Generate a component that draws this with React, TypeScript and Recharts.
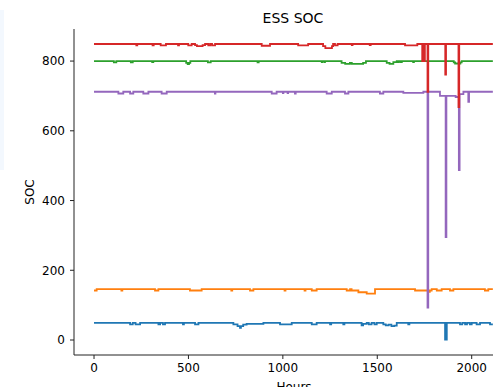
import React from "react";
import { LineChart, Line, XAxis, YAxis } from "recharts";

// [hour, SOC] breakpoints (values hold until the next breakpoint)
const blueSeries: [number, number][] = [
  [0, 49], [191, 45], [205, 49], [220, 45], [244, 49], [341, 45], [350, 49], [365, 45], [376, 49],
  [471, 45], [476, 49], [535, 45], [553, 49], [738, 45], [760, 40], [773, 35], [778, 40], [790, 44],
  [808, 46], [897, 49], [985, 45], [1047, 49], [1153, 45], [1179, 49], [1250, 45], [1256, 49],
  [1320, 45], [1326, 49], [1417, 42], [1425, 46], [1444, 49], [1455, 45], [1470, 49], [1485, 45],
  [1497, 49], [1532, 45], [1545, 42], [1560, 44], [1575, 40], [1590, 41], [1603, 49], [1664, 45],
  [1670, 49], [1859, 1], [1868, 49], [1938, 45], [1950, 49], [1965, 45], [1975, 49], [1990, 45],
  [2000, 49], [2026, 45], [2044, 49], [2097, 45], [2112, 45],
];

const orangeSeries: [number, number][] = [
  [0, 142], [14, 146], [145, 142], [150, 146], [323, 142], [341, 146], [508, 142], [570, 146],
  [727, 142], [732, 146], [826, 142], [844, 146], [1009, 142], [1014, 146], [1115, 142], [1120, 146],
  [1153, 142], [1179, 146], [1338, 142], [1356, 146], [1364, 142], [1400, 137], [1444, 133],
  [1488, 146], [1700, 142], [1768, 138], [1778, 142], [1788, 146], [1815, 142], [1841, 146],
  [1885, 142], [1903, 146], [2070, 142], [2088, 146], [2112, 146],
];

const greenSeries: [number, number][] = [
  [0, 800], [105, 796], [118, 800], [195, 796], [205, 800], [308, 797], [314, 800], [488, 795],
  [496, 791], [503, 795], [510, 800], [603, 796], [618, 800], [866, 796], [872, 800], [1206, 797],
  [1209, 800], [1220, 797], [1223, 800], [1311, 795], [1330, 792], [1355, 795], [1365, 792],
  [1425, 795], [1440, 800], [1550, 795], [1565, 792], [1585, 797], [1603, 800], [1610, 797],
  [1615, 800], [1625, 797], [1630, 800], [1690, 797], [1694, 800], [1905, 796], [1912, 793],
  [1940, 796], [1947, 800], [2112, 800],
];

const purpleSeries: [number, number][] = [
  [0, 712], [129, 707], [155, 712], [191, 707], [208, 712], [261, 707], [288, 712], [358, 707],
  [385, 712], [640, 707], [643, 712], [941, 707], [967, 712], [1000, 708], [1003, 712], [1025, 708],
  [1028, 712], [1064, 707], [1068, 712], [1232, 707], [1259, 712], [1329, 707], [1347, 712],
  [1514, 707], [1532, 712], [1638, 709], [1744, 712], [1766, 93], [1770, 712], [1832, 700],
  [1862, 295], [1866, 700], [1915, 697], [1932, 487], [1936, 705], [1956, 712], [1982, 683],
  [1986, 712], [2112, 712],
];

const redSeries: [number, number][] = [
  [0, 849], [224, 845], [229, 849], [310, 845], [316, 849], [353, 845], [381, 849], [445, 845],
  [450, 849], [499, 845], [517, 849], [535, 846], [545, 843], [575, 846], [588, 849], [605, 845],
  [615, 849], [625, 845], [641, 849], [888, 844], [932, 849], [1081, 845], [1134, 849], [1213, 843],
  [1225, 837], [1260, 843], [1266, 849], [1276, 845], [1290, 849], [1365, 846], [1369, 849],
  [1460, 846], [1465, 849], [1647, 845], [1712, 849], [1738, 800], [1742, 849], [1748, 800],
  [1752, 849], [1766, 712], [1770, 849], [1860, 761], [1864, 849], [1930, 668], [1934, 849],
  [2112, 849],
];

const xTicks = [0, 500, 1000, 1500, 2000];
const yTicks = [0, 200, 400, 600, 800];

const FONT = "DejaVu Sans";
const toRows = (pts: [number, number][]) => pts.map(([h, v]) => ({ h, v }));

const series = [
  { name: "ESS1", pts: blueSeries, color: "#1f77b4" },
  { name: "ESS2", pts: orangeSeries, color: "#ff7f0e" },
  { name: "ESS3", pts: greenSeries, color: "#2ca02c" },
  { name: "ESS5", pts: purpleSeries, color: "#9467bd" },
  { name: "ESS4", pts: redSeries, color: "#d62728" },
];

export default function App() {
  const tickStyle = { fontSize: 12, fill: "#000", fontFamily: FONT };
  return (
    <div
      style={{
        position: "absolute",
        left: 0,
        top: 0,
        width: 493,
        height: 387,
        overflow: "hidden",
        background: "#fff",
      }}
    >
      <div style={{ position: "absolute", left: 0, top: 10, width: 4, height: 160, background: "#f3f8fe" }} />
      <LineChart width={530} height={387} margin={{ top: 29, right: 16, bottom: 0, left: 0 }}>
        <XAxis
          xAxisId="main"
          dataKey="h"
          type="number"
          domain={[-106, 2224]}
          ticks={xTicks}
          allowDataOverflow
          height={32}
          tickSize={4}
          tickMargin={4}
          tick={tickStyle}
          axisLine={{ stroke: "#222", strokeWidth: 1 }}
          tickLine={{ stroke: "#222", strokeWidth: 1 }}
        />
        <XAxis
          xAxisId="top"
          orientation="top"
          dataKey="h"
          type="number"
          domain={[-106, 2224]}
          allowDataOverflow
          height={0}
          tick={false}
          tickLine={false}
          axisLine={{ stroke: "#222", strokeWidth: 1 }}
        />
        <YAxis
          type="number"
          domain={[-43, 892]}
          ticks={yTicks}
          allowDataOverflow
          width={74}
          tickSize={4}
          tickMargin={5}
          tick={tickStyle}
          axisLine={{ stroke: "#222", strokeWidth: 1 }}
          tickLine={{ stroke: "#222", strokeWidth: 1 }}
        />
        {series.map((s) => (
          <Line
            key={s.name}
            xAxisId="main"
            data={toRows(s.pts)}
            dataKey="v"
            name={s.name}
            type="stepAfter"
            stroke={s.color}
            strokeWidth={1.8}
            dot={false}
            activeDot={false}
            isAnimationActive={false}
          />
        ))}
      </LineChart>
      <svg
        width={493}
        height={387}
        style={{ position: "absolute", left: 0, top: 0, pointerEvents: "none" }}
      >
        <text x={293} y={22.5} textAnchor="middle" fontFamily={FONT} fontSize={14} fill="#000">
          ESS SOC
        </text>
        <text
          x={34}
          y={192}
          textAnchor="middle"
          fontFamily={FONT}
          fontSize={12}
          fill="#000"
          transform="rotate(-90 34 192)"
        >
          SOC
        </text>
        <text x={294} y={391} textAnchor="middle" fontFamily={FONT} fontSize={12} fill="#000">
          Hours
        </text>
      </svg>
    </div>
  );
}
